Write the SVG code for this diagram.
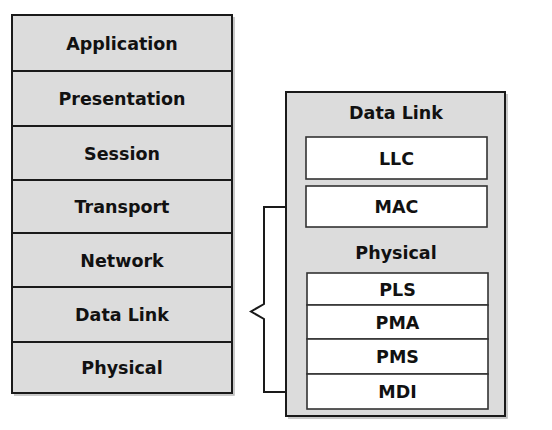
<svg xmlns="http://www.w3.org/2000/svg" width="552" height="430" viewBox="0 0 552 430">
<style>
.layer{fill:#dcdcdc;stroke:#1a1a1a;stroke-width:2}
.sub{fill:#ffffff;stroke:#333333;stroke-width:1.6}
.shadow{fill:none;stroke:#b8b8b8;stroke-width:1.5}
.t{font-family:"DejaVu Sans",sans-serif;font-weight:bold;font-size:17.5px;fill:#111;text-anchor:middle}
.conn{fill:none;stroke:#1a1a1a;stroke-width:2;stroke-linejoin:miter}
</style>
<rect width="552" height="430" fill="#ffffff"/>
<g id="osi-stack">
  <path class="shadow" d="M234,17 V395 H14"/>
  <g id="application"><rect class="layer" x="12" y="15" width="220" height="56"/><text class="t" x="122" y="49.5">Application</text></g>
  <g id="presentation"><rect class="layer" x="12" y="71" width="220" height="55"/><text class="t" x="122" y="104.5">Presentation</text></g>
  <g id="session"><rect class="layer" x="12" y="126" width="220" height="54"/><text class="t" x="122" y="159.5">Session</text></g>
  <g id="transport"><rect class="layer" x="12" y="180" width="220" height="53"/><text class="t" x="122" y="213">Transport</text></g>
  <g id="network"><rect class="layer" x="12" y="233" width="220" height="54"/><text class="t" x="122" y="266.5">Network</text></g>
  <g id="datalink"><rect class="layer" x="12" y="287" width="220" height="55"/><text class="t" x="122" y="321">Data Link</text></g>
  <g id="physical"><rect class="layer" x="12" y="342" width="220" height="51"/><text class="t" x="122" y="374">Physical</text></g>
</g>
<g id="connectors">
  <path class="conn" d="M286,207 H264 V304 L251,311.5 L264,319 V392 H286"/>
</g>
<g id="datalink-detail">
  <path class="shadow" d="M507,94 V418 H288"/>
  <rect class="layer" x="286" y="92" width="219" height="324"/>
  <text class="t" x="396" y="118.5">Data Link</text>
  <g id="llc"><rect class="sub" x="306" y="137" width="181" height="42"/><text class="t" x="396.5" y="164.5">LLC</text></g>
  <g id="mac"><rect class="sub" x="306" y="186" width="181" height="41"/><text class="t" x="396.5" y="213">MAC</text></g>
  <text class="t" x="396" y="258.5">Physical</text>
  <g id="pls"><rect class="sub" x="307" y="273" width="181" height="32"/><text class="t" x="397.5" y="295.5">PLS</text></g>
  <g id="pma"><rect class="sub" x="307" y="305" width="181" height="34"/><text class="t" x="397.5" y="328.5">PMA</text></g>
  <g id="pms"><rect class="sub" x="307" y="339" width="181" height="35"/><text class="t" x="397.5" y="363">PMS</text></g>
  <g id="mdi"><rect class="sub" x="307" y="374" width="181" height="35"/><text class="t" x="397.5" y="398">MDI</text></g>
</g>
</svg>
